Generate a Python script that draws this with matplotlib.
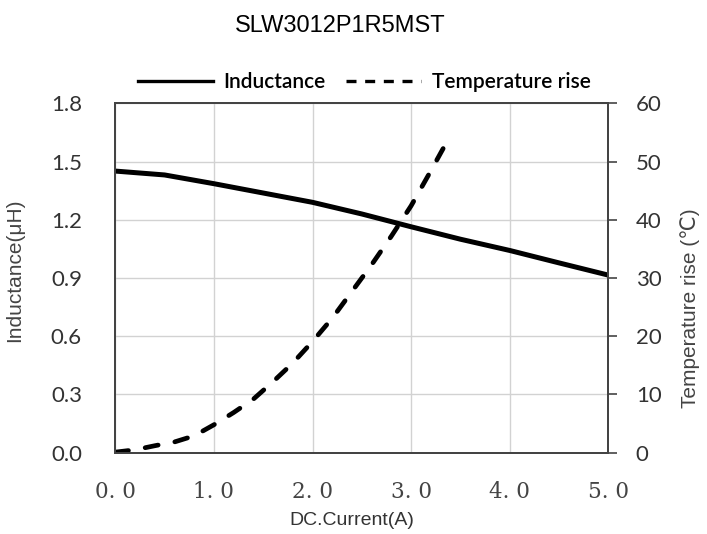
import matplotlib
matplotlib.use("Agg")
import matplotlib.pyplot as plt
from matplotlib.lines import Line2D

# inductance curve (uH) vs DC current (A)
ind_current = [0.0, 0.5, 1.0, 1.5, 2.0, 2.5, 3.0, 3.5, 4.0, 4.5, 5.0]
inductance = [1.451, 1.431, 1.386, 1.338, 1.290, 1.230, 1.164, 1.100, 1.042, 0.978, 0.915]

# temperature rise (degC) vs DC current (A)
temp_current = [0.0, 0.2, 0.4, 0.6, 0.8, 1.0, 1.2, 1.4, 1.6, 1.8, 2.0,
                2.2, 2.4, 2.6, 2.8, 3.0, 3.2, 3.34]
temp_rise = [0.1, 0.5, 1.2, 1.85, 2.9, 4.8, 6.9, 9.2, 12.2, 15.4, 19.1,
             23.1, 27.7, 32.3, 37.2, 42.4, 48.4, 52.7]

x_ticks = [0, 1, 2, 3, 4, 5]
x_labels = ["0. 0", "1. 0", "2. 0", "3. 0", "4. 0", "5. 0"]
left_ticks = [0.0, 0.3, 0.6, 0.9, 1.2, 1.5, 1.8]
right_ticks = [0, 10, 20, 30, 40, 50, 60]

tick_font = ["Lato", "DejaVu Sans"]
label_font = ["Liberation Sans", "DejaVu Sans"]
txt = "#333333"

fig = plt.figure(figsize=(7.07, 5.34), dpi=100)
ax = fig.add_axes([0.1631, 0.1522, 0.6973, 0.6543])
ax2 = ax.twinx()

ax.plot(ind_current, inductance, color="black", lw=3.6, solid_capstyle="round")
ax2.plot(temp_current, temp_rise, color="black", lw=3.4,
         ls=(0, (2.8, 3.6)), dash_capstyle="round")

ax.set_xlim(0, 5)
ax.set_ylim(0, 1.8)
ax2.set_ylim(0, 60)
ax.grid(True, color="#d2d2d2", lw=1.0)
ax.set_axisbelow(True)

ax.set_xticks(x_ticks)
ax.set_xticklabels(x_labels, family="DejaVu Serif", fontsize=15.5, color="#444")
ax.set_yticks(left_ticks)
ax.set_yticklabels([f"{v:.1f}" for v in left_ticks], family=tick_font,
                   fontsize=16, color=txt)
ax2.set_yticks(right_ticks)
ax2.set_yticklabels([str(v) for v in right_ticks], family=tick_font,
                    fontsize=16, color=txt)

ax.tick_params(axis="x", length=0, pad=20)
ax.tick_params(axis="y", length=0, pad=24)
ax2.tick_params(axis="y", length=6.8, width=1.2, color="#444", pad=13)

for a in (ax, ax2):
    for s in a.spines.values():
        s.set_color("#444444")
        s.set_linewidth(1.4)

ax.set_xlabel("DC.Current(A)", fontsize=14, color=txt, family=label_font)
ax.xaxis.set_label_coords(0.48, -0.17)
ax.set_ylabel("Inductance(μH)", fontsize=15, color="#444", family=label_font)
ax.yaxis.set_label_coords(-0.185, 0.523)
ax2.set_ylabel("Temperature rise (℃)", fontsize=15, color="#444",
               family=label_font)
ax2.yaxis.set_label_coords(1.145, 0.414)

fig.text(0.481, 1 - 31.7 / 534, "SLW3012P1R5MST", ha="center", va="baseline",
         fontsize=17, color="black", family=label_font)

handles = [Line2D([], [], color="black", lw=2.4),
           Line2D([], [], color="black", lw=2.4, ls=(0, (3, 2.6)))]
fig.legend(handles, ["Inductance", "Temperature rise"], ncol=2,
           loc="center", bbox_to_anchor=(0.515, 0.846), frameon=False,
           handlelength=3.6, columnspacing=1.0, handletextpad=0.5,
           prop={"family": tick_font, "size": 15, "weight": "semibold"})

fig.savefig("out.png", dpi=100)
